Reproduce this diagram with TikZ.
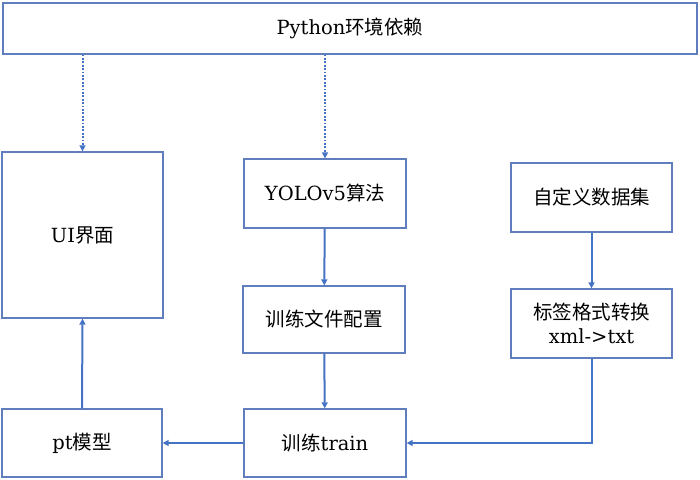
\documentclass[tikz,border=0pt]{standalone}
\usepackage{fontspec}
\setmainfont{DejaVu Serif}
\newfontfamily\cjk{Noto Sans CJK SC}
\usetikzlibrary{arrows.meta}
\definecolor{boxc}{RGB}{96,125,190}
\definecolor{arrc}{RGB}{68,114,196}
\begin{document}
\begin{tikzpicture}[x=1pt,y=-1pt,
  box/.style={draw=boxc, line width=1.3pt, fill=white, inner sep=0pt, align=center,
    font=\fontsize{19.5}{24}\selectfont},
  arr/.style={draw=arrc, line width=2pt, -{Triangle[length=6pt,width=6pt]}},
  dotarr/.style={arr, dash pattern=on 1.8pt off 1.6pt}]
\useasboundingbox (0,0) rectangle (700,479);
\node[box, minimum width=694pt, minimum height=51pt] (top) at (350,28.5) {Python{\cjk 环境依赖}};
\node[box, minimum width=161pt, minimum height=166pt] (ui) at (82.5,235) {UI{\cjk 界面}};
\node[box, minimum width=162pt, minimum height=69pt] (yolo) at (325,193.5) {YOLOv5{\cjk 算法}};
\node[box, minimum width=162pt, minimum height=67pt] (cfg) at (324,319.5) {{\cjk 训练文件配置}};
\node[box, minimum width=162pt, minimum height=68pt] (train) at (325,443) {{\cjk 训练}train};
\node[box, minimum width=160pt, minimum height=68pt] (pt) at (82,443) {pt{\cjk 模型}};
\node[box, minimum width=161pt, minimum height=69pt] (ds) at (591.5,197.5) {{\cjk 自定义数据集}};
\node[box, minimum width=161pt, minimum height=69pt] (lab) at (591.5,323.5) {{\cjk 标签格式转换}\\xml->txt};
\draw[dotarr] (ui.north |- top.south) -- (ui.north);
\draw[dotarr] (yolo.north |- top.south) -- (yolo.north);
\draw[arr] (yolo) -- (cfg);
\draw[arr] (cfg) -- (train);
\draw[arr] (ds) -- (lab);
\draw[arr] (lab.south) |- (train.east);
\draw[arr] (train.west) -- (pt.east);
\draw[arr] (pt.north) -- (ui.south);
\end{tikzpicture}
\end{document}
